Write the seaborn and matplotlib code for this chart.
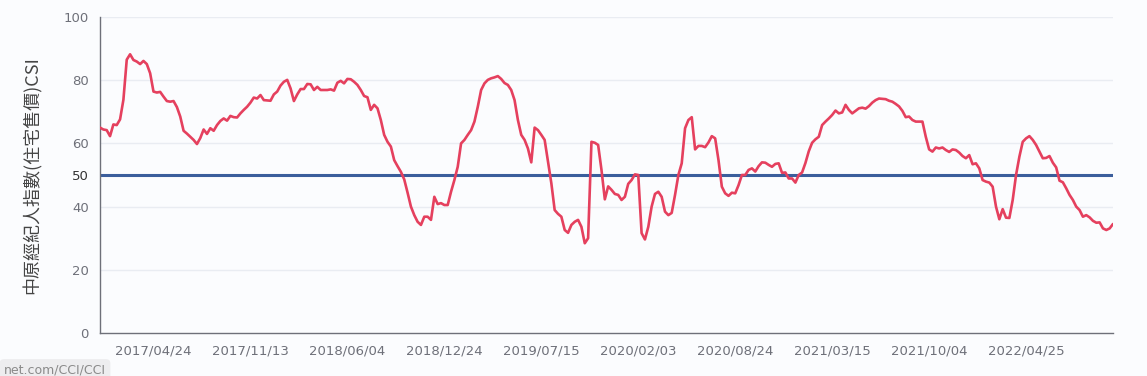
import matplotlib
matplotlib.use("Agg")
import numpy as np
import pandas as pd
import seaborn as sns
import matplotlib.pyplot as plt

# ---- data (weekly CSI readings) ----
start_date = "2017-01-02"
csi_values = [
    65.0, 64.4, 64.2, 62.3, 66.0, 65.8, 67.6, 73.8, 86.5, 88.2,
    86.4, 85.9, 85.1, 86.1, 85.1, 82.2, 76.4, 76.1, 76.3, 74.8,
    73.4, 73.2, 73.4, 71.5, 68.5, 64.0, 63.1, 62.1, 61.1, 59.8,
    61.7, 64.4, 63.0, 64.8, 64.0, 65.8, 67.1, 67.9, 67.2, 68.7,
    68.3, 68.2, 69.5, 70.6, 71.6, 72.9, 74.5, 74.2, 75.3, 73.7,
    73.6, 73.5, 75.5, 76.4, 78.3, 79.5, 80.1, 77.4, 73.4, 75.5,
    77.2, 77.2, 78.8, 78.7, 76.9, 77.9, 76.9, 76.9, 76.9, 77.1,
    76.7, 79.2, 79.8, 79.0, 80.4, 80.3, 79.5, 78.5, 76.9, 75.0,
    74.6, 70.6, 72.2, 71.1, 67.4, 62.7, 60.5, 59.0, 54.7, 52.8,
    51.0, 48.6, 44.4, 40.0, 37.3, 35.2, 34.2, 36.8, 36.8, 35.8,
    43.1, 40.8, 41.1, 40.5, 40.5, 44.7, 48.4, 52.6, 60.0, 61.1,
    62.7, 64.2, 66.9, 71.6, 76.9, 79.0, 80.1, 80.6, 80.9, 81.3,
    80.4, 79.1, 78.5, 76.9, 73.7, 67.4, 62.7, 61.1, 58.4, 54.0,
    65.0, 64.2, 62.7, 61.1, 54.2, 47.4, 38.9, 37.7, 36.8, 32.6,
    31.7, 34.2, 35.2, 35.8, 33.6, 28.4, 30.0, 60.5, 60.2, 59.5,
    51.6, 42.3, 46.4, 45.3, 44.0, 43.7, 42.1, 43.1, 47.2, 48.4,
    50.2, 50.0, 31.6, 29.6, 33.6, 40.0, 44.0, 44.7, 43.1, 38.4,
    37.3, 38.0, 43.7, 50.0, 53.7, 64.8, 67.4, 68.3, 58.1, 59.2,
    59.2, 58.8, 60.3, 62.3, 61.6, 54.7, 46.3, 44.2, 43.4, 44.4,
    44.2, 46.8, 50.0, 50.0, 51.6, 52.1, 51.1, 52.8, 54.0, 53.9,
    53.2, 52.6, 53.5, 53.7, 50.7, 50.8, 48.9, 48.9, 47.6, 50.0,
    50.8, 53.8, 57.5, 60.2, 61.3, 62.1, 65.8, 66.9, 67.9, 69.0,
    70.4, 69.5, 69.8, 72.2, 70.6, 69.5, 70.3, 71.1, 71.3, 71.0,
    71.8, 72.9, 73.7, 74.2, 74.1, 74.0, 73.5, 73.2, 72.5, 71.7,
    70.3, 68.3, 68.5, 67.4, 66.9, 66.9, 66.9, 62.1, 58.1, 57.4,
    58.7, 58.4, 58.7, 57.9, 57.3, 58.1, 57.9, 57.1, 56.0, 55.3,
    56.3, 53.4, 53.7, 52.1, 48.4, 47.9, 47.6, 46.3, 40.0, 36.0,
    39.2, 36.5, 36.4, 42.1, 50.0, 55.8, 60.5, 61.6, 62.3, 61.1,
    59.5, 57.4, 55.3, 55.4, 56.0, 53.9, 52.4, 48.2, 47.7, 45.8,
    43.7, 42.1, 40.0, 38.9, 36.8, 37.3, 36.6, 35.5, 34.9, 35.0,
    33.1, 32.6, 33.1, 34.5,
]
threshold = 50
y_ticks = [0, 20, 40, 50, 60, 80, 100]
x_tick_labels = ["2017/04/24", "2017/11/13", "2018/06/04", "2018/12/24",
                 "2019/07/15", "2020/02/03", "2020/08/24", "2021/03/15",
                 "2021/10/04", "2022/04/25"]
y_label = "中原經紀人指數(住宅售價)CSI"
watermark = "net.com/CCI/CCI"

dates = pd.date_range(start_date, periods=len(csi_values), freq="7D")
df = pd.DataFrame({"date": dates, "csi": csi_values})

# ---- style ----
bg = "#FBFCFE"
axis_col = "#6E7079"
sns.set_style("white", {"axes.facecolor": bg, "figure.facecolor": bg})
plt.rcParams["font.family"] = ["DejaVu Sans"]

fig = plt.figure(figsize=(11.47, 3.76), dpi=100)
fig.patch.set_facecolor(bg)
ax = fig.add_axes([100 / 1147, 43 / 376, 1013 / 1147, 316 / 376])
ax.set_facecolor(bg)

for yv in [20, 40, 60, 80, 100]:
    ax.axhline(yv, color="#E9ECF2", lw=1, zorder=0)

ax.axhline(threshold, color="#3B5E9C", lw=2.2, zorder=2)
sns.lineplot(data=df, x="date", y="csi", ax=ax, color="#E5405E", lw=1.9, zorder=3)

ax.set_xlim(dates[0], dates[-1])
ax.set_ylim(0, 100)

ax.set_yticks(y_ticks)
ax.set_yticklabels([str(v) for v in y_ticks])
for lab, v in zip(ax.get_yticklabels(), y_ticks):
    lab.set_color("#333333" if v == threshold else axis_col)
ax.tick_params(axis="y", length=0, pad=8, labelsize=9.5)

tick_dates = pd.to_datetime([s.replace("/", "-") for s in x_tick_labels])
ax.set_xticks(tick_dates)
ax.set_xticklabels(x_tick_labels)
ax.tick_params(axis="x", length=5, width=1, color=axis_col, labelcolor=axis_col,
               labelsize=9.5, pad=3)

for s in ["top", "right"]:
    ax.spines[s].set_visible(False)
for s in ["left", "bottom"]:
    ax.spines[s].set_color(axis_col)
    ax.spines[s].set_linewidth(1)

ax.set_xlabel("")
ax.set_ylabel(y_label, family=["Noto Sans CJK TC", "DejaVu Sans"],
              fontsize=13, color="#444444")
ax.yaxis.set_label_coords(-58 / 1013, 0.5)

fig.text(4 / 1147, 6 / 376, watermark, fontsize=9, color="#8A8A8A",
         va="center", ha="left",
         bbox=dict(boxstyle="round,pad=0.35", fc="#EDEDEF", ec="none"))

fig.savefig("out.png", dpi=100, facecolor=bg)
